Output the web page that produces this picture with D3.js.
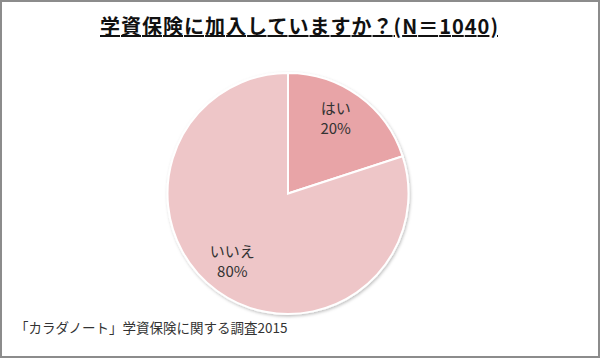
<!DOCTYPE html>
<html><head><meta charset="utf-8">
<script src="https://cdn.jsdelivr.net/npm/d3@7"></script>
<style>html,body{margin:0;padding:0;background:#fff}svg{display:block}</style>
</head><body>
<script>
const categories = ["はい", "いいえ"];
const values = [20, 80];
const valueLabels = ["20%", "80%"];
const colors = ["#E8A4A7", "#EEC6C8"];
const title = "学資保険に加入していますか？(N＝1040)";
const source = "「カラダノート」学資保険に関する調査2015";

const W = 600, H = 358;
const svg = d3.select("body").append("svg").attr("width", W).attr("height", H);
svg.append("rect").attr("x", 1).attr("y", 1).attr("width", W - 2).attr("height", H - 2)
  .attr("fill", "#fff").attr("stroke", "#8c8c8c").attr("stroke-width", 2);

const defs = svg.append("defs");
const f = defs.append("filter").attr("id", "sh").attr("x", "-10%").attr("y", "-10%").attr("width", "120%").attr("height", "120%");
f.append("feDropShadow").attr("dx", 1).attr("dy", 1.5).attr("stdDeviation", 1.5).attr("flood-color", "#000").attr("flood-opacity", 0.25);

const font = "'Noto Sans CJK JP', 'Noto Sans', sans-serif";
svg.append("text").attr("x", 299).attr("y", 34).attr("text-anchor", "middle")
  .attr("font-family", font).attr("font-weight", "bold").attr("font-size", 20)
  .attr("textLength", 398).attr("lengthAdjust", "spacing")
  .attr("fill", "#111").attr("text-decoration", "underline").text(title);

const cx = 288, cy = 193.5, r = 120.5;
const pie = d3.pie().sort(null).value(d => d.v).startAngle(0);
const data = pie(categories.map((c, i) => ({ c, v: values[i], l: valueLabels[i], col: colors[i] })));
const arc = d3.arc().innerRadius(0).outerRadius(r);
const g = svg.append("g").attr("transform", `translate(${cx},${cy})`);
g.append("g").attr("filter", "url(#sh)").selectAll("path").data(data).join("path")
  .attr("d", arc).attr("fill", d => d.data.col).attr("stroke", "#fff").attr("stroke-width", 2);

const labelArc = d3.arc().innerRadius(r * 0.73).outerRadius(r * 0.73);
data.forEach(d => {
  const [x, y] = labelArc.centroid(d);
  const lt = g.append("text").attr("text-anchor", "middle").attr("font-family", font)
    .attr("font-size", 15).attr("fill", "#333");
  lt.append("tspan").attr("x", x - 4).attr("y", y - 8).text(d.data.c);
  lt.append("tspan").attr("x", x - 4).attr("y", y + 12).text(d.data.l);
});

svg.append("text").attr("x", 15).attr("y", 333).attr("font-family", font)
  .attr("font-size", 13.5).attr("fill", "#333").text(source);
</script>
</body></html>
